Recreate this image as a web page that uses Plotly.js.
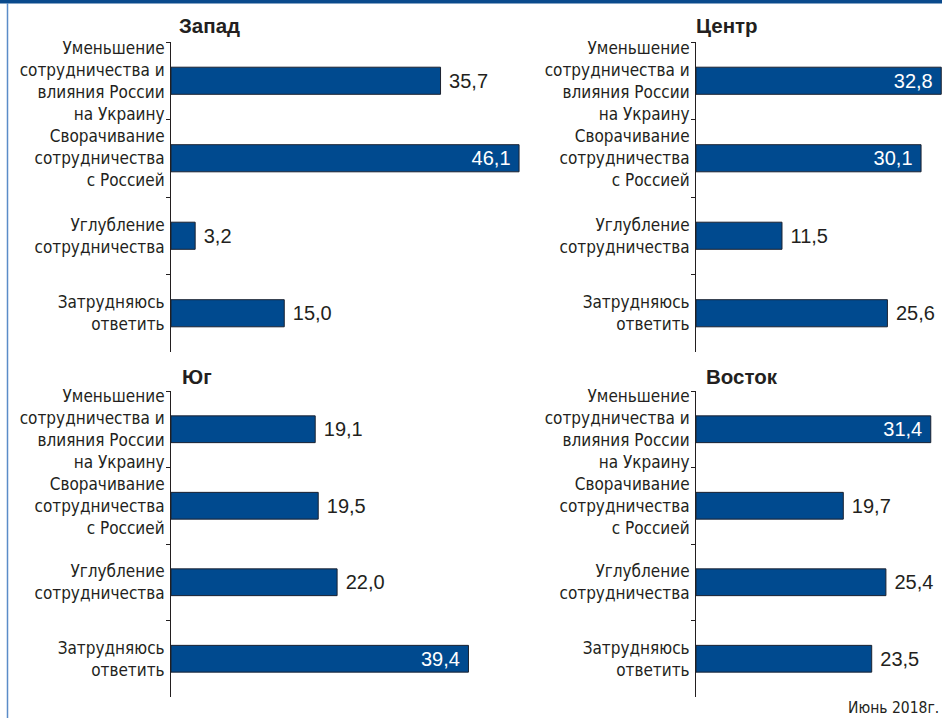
<!DOCTYPE html>
<html>
<head>
<meta charset="utf-8">
<script src="https://cdn.plot.ly/plotly-3.0.1.min.js"></script>
<style>
html,body{margin:0;padding:0;background:#fff;}
#chart{width:942px;height:718px;}
</style>
</head>
<body>
<div id="chart"></div>
<script>
// ---- data ----
const categories = [
  "Уменьшение<br>сотрудничества и<br>влияния России<br>на Украину",
  "Сворачивание<br>сотрудничества<br>с Россией",
  "Углубление<br>сотрудничества",
  "Затрудняюсь<br>ответить"
];
const regionNames = ["Запад", "Центр", "Юг", "Восток"];
const westValues   = [35.7, 46.1, 3.2, 15.0];
const centreValues = [32.8, 30.1, 11.5, 25.6];
const southValues  = [19.1, 19.5, 22.0, 39.4];
const eastValues   = [31.4, 19.7, 25.4, 23.5];
const noteText = "Июнь 2018г.";

// ---- style ----
const W = 942, H = 718;
const BAR = '#004a8f';
const TXT = '#231f20';
const FONT = '"Liberation Sans", Arial, sans-serif';
const CFONT = '"DejaVu Sans Condensed", "Liberation Sans Narrow", "Liberation Sans", sans-serif';
const placement = {
  "Запад":  ['outside','inside','outside','outside'],
  "Центр":  ['inside','inside','outside','outside'],
  "Юг":     ['outside','outside','outside','inside'],
  "Восток": ['inside','outside','outside','outside']
};
const seriesList = [westValues, centreValues, southValues, eastValues];

const px = v => v / W;
const py = v => 1 - v / H;
const panels = [
  {ax: 171, top: 42,  bottom: 352, right: 171 + 377.5, max: 50,   title: [177, 25]},
  {ax: 696, top: 42,  bottom: 352, right: 942,         max: 32.9, title: [694, 25]},
  {ax: 171, top: 391, bottom: 697, right: 171 + 377.5, max: 50,   title: [180, 376]},
  {ax: 696, top: 391, bottom: 697, right: 942,         max: 32.9, title: [704, 376]}
];

const traces = [];
const layout = {
  width: W, height: H,
  margin: {l: 0, r: 0, t: 0, b: 0},
  paper_bgcolor: '#fff', plot_bgcolor: 'rgba(0,0,0,0)',
  showlegend: false,
  separators: ', ',
  font: {family: FONT, color: TXT},
  annotations: [],
  shapes: [
    {type: 'rect', xref: 'paper', yref: 'paper', x0: 0, x1: 1, y0: py(3.5), y1: 1,
     fillcolor: '#0a4a8c', line: {width: 0}},
    {type: 'line', xref: 'paper', yref: 'paper', x0: px(7.5), x1: px(7.5), y0: 0, y1: py(3),
     line: {color: '#5b8cc8', width: 1.5}}
  ]
};

panels.forEach((p, i) => {
  const n = i + 1;
  const xa = n === 1 ? 'x' : 'x' + n;
  const ya = n === 1 ? 'y' : 'y' + n;
  const vals = seriesList[i];
  const pos = placement[regionNames[i]];
  traces.push({
    type: 'bar', orientation: 'h',
    x: vals, y: categories,
    xaxis: xa, yaxis: ya,
    width: 0.35,
    marker: {color: BAR, line: {color: '#1b2230', width: 1}},
    textposition: pos,
    texttemplate: pos.map(t => t === 'inside' ? '%{x:.1f}\u00a0' : '\u00a0%{x:.1f}'),
    insidetextanchor: 'end',
    insidetextfont: {family: FONT, size: 20, color: '#ffffff'},
    outsidetextfont: {family: FONT, size: 20, color: TXT},
    constraintext: 'none',
    textangle: 0,
    cliponaxis: false,
    hoverinfo: 'none'
  });
  layout[n === 1 ? 'xaxis' : 'xaxis' + n] = {
    domain: [px(p.ax), px(p.right)],
    range: [0, p.max],
    anchor: ya,
    visible: false, fixedrange: true
  };
  layout[n === 1 ? 'yaxis' : 'yaxis' + n] = {
    domain: [py(p.bottom), py(p.top)],
    anchor: xa,
    type: 'category',
    range: [3.5, -0.5],
    showline: true, linecolor: TXT, linewidth: 1,
    ticks: 'outside', tickson: 'boundaries', ticklen: 4, tickcolor: TXT, tickwidth: 1,
    ticklabelstandoff: 2,
    showgrid: false, zeroline: false,
    tickfont: {family: CFONT, size: 17, color: TXT},
    fixedrange: true
  };
  layout.annotations.push({
    xref: 'paper', yref: 'paper',
    x: px(p.title[0]), y: py(p.title[1]),
    xanchor: 'left', yanchor: 'middle',
    text: '<b>' + regionNames[i] + '</b>',
    showarrow: false,
    font: {family: FONT, size: 20.5, color: TXT}
  });
});

layout.annotations.push({
  xref: 'paper', yref: 'paper',
  x: px(941), y: py(708),
  xanchor: 'right', yanchor: 'middle',
  text: noteText, showarrow: false,
  font: {family: CFONT, size: 15.5, color: TXT}
});

Plotly.newPlot('chart', traces, layout, {displayModeBar: false, staticPlot: true});
</script>
</body>
</html>
